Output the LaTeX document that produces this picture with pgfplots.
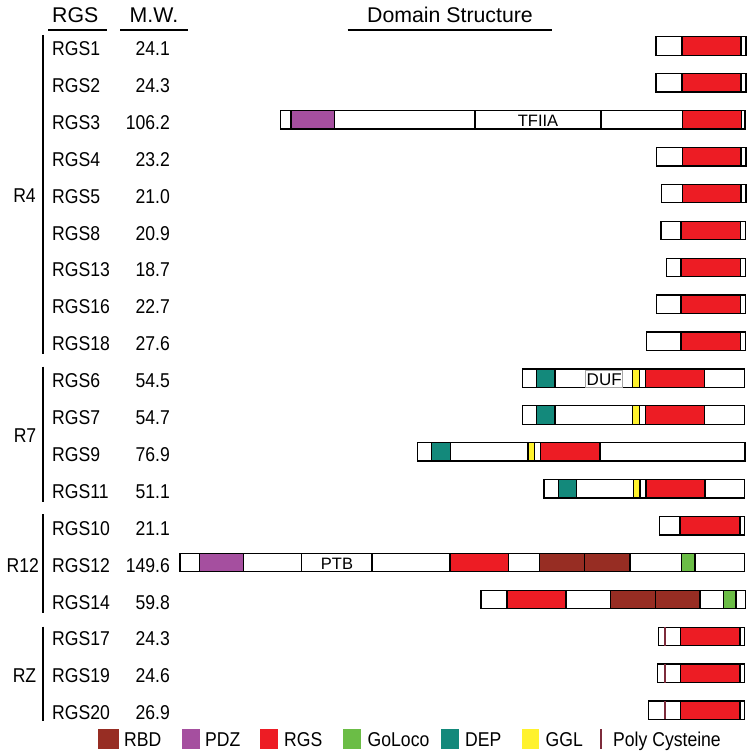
\documentclass[border=0pt]{standalone}
\usepackage{pgfplots}
\pgfplotsset{compat=1.18}
\usepackage{fontspec}
\setmainfont{Liberation Sans}[FakeStretch=0.88]
\newfontfamily\hdr{Liberation Sans}
\definecolor{cRGS}{HTML}{ED1C24}
\definecolor{cPDZ}{HTML}{A54F9F}
\definecolor{cRBD}{HTML}{972D23}
\definecolor{cGo}{HTML}{6BBD46}
\definecolor{cDEP}{HTML}{13897B}
\definecolor{cGGL}{HTML}{FFF22D}
\definecolor{cPC}{HTML}{7D2B3B}
% box: [fill]{x1}{x2}{row}
\newcommand{\bx}[4][white]{%
 \pgfmathsetmacro\ya{46+36.9*#4-9.2}%
 \pgfmathsetmacro\yb{46+36.9*#4+9.2}%
 \addplot[fill=#1,draw=black,line width=1.3bp] coordinates {(#2,\ya) (#3,\ya) (#3,\yb) (#2,\yb)} -- cycle;}
% vertical line: [color]{x}{row}
\newcommand{\vl}[3][black]{%
 \pgfmathsetmacro\ya{46+36.9*#3-9.2}%
 \pgfmathsetmacro\yb{46+36.9*#3+9.2}%
 \addplot[draw=#1,line width=1.6bp] coordinates {(#2,\ya) (#2,\yb)};}
% labels: {row}{name}{mw}
\newcommand{\lab}[3]{%
 \node[anchor=base west] at (axis cs:52,{55.5+36.9*#1}) {#2};
 \node[anchor=base east] at (axis cs:170,{55.5+36.9*#1}) {#3};}
\begin{document}
\begin{tikzpicture}[every node/.style={font=\fontsize{20bp}{24bp}\selectfont, inner sep=0pt}]
\begin{axis}[scale only axis, width=754bp, height=751bp,
  xmin=0, xmax=754, ymin=0, ymax=751, y dir=reverse,
  hide axis, clip=false]
% header
\node[anchor=base, font=\hdr\fontsize{21.3bp}{25bp}\selectfont] at (axis cs:75.3,22.7) {RGS};
\node[anchor=base, font=\hdr\fontsize{21.3bp}{25bp}\selectfont] at (axis cs:154,22.7) {M.W.};
\node[anchor=base, font=\hdr\fontsize{21.3bp}{25bp}\selectfont] at (axis cs:450,22.7) {Domain Structure};
\addplot[line width=2bp] coordinates {(48,30) (106.7,30)};
\addplot[line width=2bp] coordinates {(120,30) (187.5,30)};
\addplot[line width=2bp] coordinates {(347.6,30) (552,30)};
% group brackets
\addplot[line width=1.6bp] coordinates {(43,35) (43,354)};
\addplot[line width=1.6bp] coordinates {(43,366.7) (43,501.7)};
\addplot[line width=1.6bp] coordinates {(43,514) (43,613.3)};
\addplot[line width=1.6bp] coordinates {(43,626.7) (43,720.7)};
\node[anchor=base] at (axis cs:24.5,202.5) {R4};
\node[anchor=base] at (axis cs:25,442) {R7};
\node[anchor=base] at (axis cs:22.7,572) {R12};
\node[anchor=base] at (axis cs:24.5,682.5) {RZ};
% labels
\lab{0}{RGS1}{24.1}
\lab{1}{RGS2}{24.3}
\lab{2}{RGS3}{106.2}
\lab{3}{RGS4}{23.2}
\lab{4}{RGS5}{21.0}
\lab{5}{RGS8}{20.9}
\lab{6}{RGS13}{18.7}
\lab{7}{RGS16}{22.7}
\lab{8}{RGS18}{27.6}
\lab{9}{RGS6}{54.5}
\lab{10}{RGS7}{54.7}
\lab{11}{RGS9}{76.9}
\lab{12}{RGS11}{51.1}
\lab{13}{RGS10}{21.1}
\lab{14}{RGS12}{149.6}
\lab{15}{RGS14}{59.8}
\lab{16}{RGS17}{24.3}
\lab{17}{RGS19}{24.6}
\lab{18}{RGS20}{26.9}
% R4
\bx{656}{746}{0} \bx[cRGS]{682}{741}{0}
\bx{656}{746}{1} \bx[cRGS]{682}{741}{1}
\bx{280.7}{745}{2} \bx[cPDZ]{291}{334.3}{2} \vl{475}{2} \vl{601}{2} \bx[cRGS]{682.3}{741.7}{2}
\node[anchor=base, font=\hdr\fontsize{16.5bp}{20bp}\selectfont] at (axis cs:538,{126.5}) {TFIIA};
\bx{656.7}{746}{3} \bx[cRGS]{682.3}{741}{3}
\bx{661.7}{746}{4} \bx[cRGS]{682.3}{741}{4}
\bx{661}{745.3}{5} \bx[cRGS]{681}{740.3}{5}
\bx{666.3}{745.3}{6} \bx[cRGS]{681}{740.3}{6}
\bx{656.7}{745.3}{7} \bx[cRGS]{681}{740.3}{7}
\bx{646.7}{745.3}{8} \bx[cRGS]{681}{740.3}{8}
% R7
\bx{522.7}{744.3}{9} \bx[cDEP]{536.7}{555}{9}
\addplot[draw=gray!70, line width=1bp] coordinates {(585.7,370.3) (622.7,370.3) (622.7,387.5) (585.7,387.5)} -- cycle;
\node[anchor=base, font=\hdr\fontsize{17bp}{20bp}\selectfont] at (axis cs:604.2,385) {DUF};
\bx[cGGL]{632.7}{639.3}{9} \bx[cRGS]{645.3}{704.3}{9}
\bx{522.7}{744.3}{10} \bx[cDEP]{536.7}{555}{10} \bx[cGGL]{632.7}{639.3}{10} \bx[cRGS]{645.3}{704.3}{10}
\bx{417.3}{745}{11} \bx[cDEP]{431.7}{450.7}{11} \bx[cGGL]{528}{534.7}{11} \bx[cRGS]{540.3}{600}{11}
\bx{544}{744.3}{12} \bx[cDEP]{558.3}{576.7}{12} \bx[cGGL]{633.3}{640}{12} \bx[cRGS]{646}{705}{12}
% R12
\bx{659.3}{744.7}{13} \bx[cRGS]{680}{740}{13}
\bx{180}{744.7}{14} \bx[cPDZ]{199.8}{243.4}{14} \vl{301.5}{14} \vl{372.2}{14}
\node[anchor=base, font=\hdr\fontsize{16.5bp}{20bp}\selectfont] at (axis cs:337,569) {PTB};
\bx[cRGS]{450}{508.2}{14} \bx[cRBD]{539.8}{584.5}{14} \bx[cRBD]{584.5}{630}{14} \bx[cGo]{681.4}{695.1}{14}
\bx{481}{745.4}{15} \bx[cRGS]{507}{565.9}{15} \bx[cRBD]{610.6}{655.3}{15} \bx[cRBD]{655.3}{700}{15} \bx[cGo]{723.8}{736.1}{15}
% RZ
\bx{658.3}{744.7}{16} \vl[cPC]{665}{16} \bx[cRGS]{680.7}{740}{16}
\bx{657.3}{744.7}{17} \vl[cPC]{665}{17} \bx[cRGS]{680.7}{740}{17}
\bx{648.3}{744.7}{18} \vl[cPC]{665}{18} \bx[cRGS]{680.7}{740}{18}
% legend
\addplot[fill=cRBD, draw=none] coordinates {(98,729) (119,729) (119,749) (98,749)} -- cycle;
\addplot[fill=cPDZ, draw=none] coordinates {(182.4,729) (200,729) (200,749) (182.4,749)} -- cycle;
\addplot[fill=cRGS, draw=none] coordinates {(259.5,729) (278,729) (278,749) (259.5,749)} -- cycle;
\addplot[fill=cGo, draw=none] coordinates {(343.4,729) (361,729) (361,749) (343.4,749)} -- cycle;
\addplot[fill=cDEP, draw=none] coordinates {(440.8,729) (458.6,729) (458.6,749) (440.8,749)} -- cycle;
\addplot[fill=cGGL, draw=none] coordinates {(522,729) (539,729) (539,749) (522,749)} -- cycle;
\addplot[draw=cPC, line width=1.8bp] coordinates {(600.6,729) (600.6,749)};
\node[anchor=base west] at (axis cs:124,746.5) {RBD};
\node[anchor=base west] at (axis cs:205,746.5) {PDZ};
\node[anchor=base west] at (axis cs:284,746.5) {RGS};
\node[anchor=base west] at (axis cs:367.5,746.5) {GoLoco};
\node[anchor=base west] at (axis cs:465,746.5) {DEP};
\node[anchor=base west] at (axis cs:545.5,746.5) {GGL};
\node[anchor=base west] at (axis cs:613,746.5) {Poly Cysteine};
\end{axis}
\pgfresetboundingbox
\path[use as bounding box] (current axis.south west) rectangle (current axis.north east);
\end{tikzpicture}
\end{document}
